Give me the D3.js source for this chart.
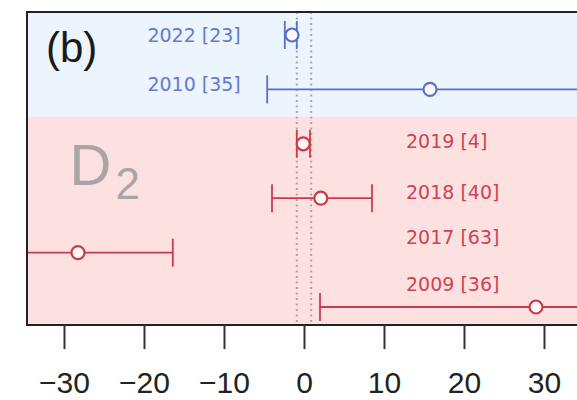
<!DOCTYPE html>
<html><head><meta charset="utf-8">
<script src="https://cdn.jsdelivr.net/npm/d3@7"></script>
<style>html,body{margin:0;padding:0;background:#fff;}svg{display:block;}</style>
</head><body>
<svg id="c" width="577" height="400"></svg>
<script>
// ---- data ----
const labels   = ["2022 [23]", "2010 [35]", "2019 [4]", "2018 [40]", "2017 [63]", "2009 [36]"];
const groups   = ["blue", "blue", "red", "red", "red", "red"];
const estimate = [-1.5, 15.75, -0.1, 2.1, -28.25, 29.0];
const lower    = [-2.4, -4.6, -0.9, -4.0, -42, 2.0];
const upper    = [-0.9, 42, 0.75, 8.5, -16.4, 42];
const labelRow = [1.0, 1.91, 2.96, 3.89, 4.71, 5.58];
const labelX   = [-7.9, -7.9, 12.75, 12.75, 12.75, 12.75];
const refLines = [-0.9, 0.9];
const xTicks   = [-30, -20, -10, 0, 10, 20, 30];

(function () {
// ---- layout ----
const pLeft = 27, pTop = 12, pBottom = 325, pRight = 620;
const svg = d3.select("#c");
const x = d3.scaleLinear().domain([-30, 30]).range([64, 544]);
const y = d3.scaleLinear().domain([1, 6]).range([35, 307]);
const col = {blue: "#5a6ecc", red: "#cc3b4a"};
const lab = {blue: "#6679cf", red: "#cf4352"};

svg.append("defs").append("clipPath").attr("id", "clip")
  .append("rect").attr("x", pLeft).attr("y", pTop).attr("width", pRight - pLeft).attr("height", pBottom - pTop);

const g = svg.append("g").attr("clip-path", "url(#clip)");
// bands
const split = y(2.5);
g.append("rect").attr("x", pLeft).attr("y", pTop).attr("width", pRight - pLeft).attr("height", split - pTop).attr("fill", "#ecf4fd");
g.append("rect").attr("x", pLeft).attr("y", split).attr("width", pRight - pLeft).attr("height", pBottom - split).attr("fill", "#fde1e1");

// D2 watermark
const dt = svg.append("text").attr("x", x(-29.3)).attr("y", 185).attr("fill", "#a9a5a5")
  .attr("font-family", "Liberation Sans, Arial, sans-serif").attr("font-size", 58);
dt.append("tspan").text("D");
dt.append("tspan").attr("font-size", 44).attr("dy", 14).attr("dx", 4).text("2");

// reference dotted lines
g.selectAll("line.ref").data(refLines).join("line")
  .attr("x1", d => x(d)).attr("x2", d => x(d)).attr("y1", pTop).attr("y2", pBottom)
  .attr("stroke", "#a9a3ad").attr("stroke-width", 2).attr("stroke-dasharray", "2,3.5");

const rows = labels.map((l, i) => ({l, i, grp: groups[i], e: estimate[i], lo: lower[i], hi: upper[i], ly: labelRow[i], lx: labelX[i]}));

// intervals
g.selectAll("line.ci").data(rows).join("line")
  .attr("x1", d => x(d.lo)).attr("x2", d => x(d.hi)).attr("y1", d => y(d.i + 1)).attr("y2", d => y(d.i + 1))
  .attr("stroke", d => col[d.grp]).attr("stroke-width", 1.8);
const caps = [];
rows.forEach(d => { caps.push({d, v: d.lo}); caps.push({d, v: d.hi}); });
g.selectAll("line.cap").data(caps).join("line")
  .attr("x1", c => x(c.v)).attr("x2", c => x(c.v))
  .attr("y1", c => y(c.d.i + 1) - 14).attr("y2", c => y(c.d.i + 1) + 14)
  .attr("stroke", c => col[c.d.grp]).attr("stroke-width", 1.8);
g.selectAll("circle.pt").data(rows).join("circle")
  .attr("cx", d => x(d.e)).attr("cy", d => y(d.i + 1)).attr("r", 6.5)
  .attr("fill", "#fffaf8").attr("stroke", d => col[d.grp]).attr("stroke-width", 2.2);

// labels
svg.selectAll("text.lab").data(rows).join("text")
  .attr("x", d => x(d.lx)).attr("y", d => y(d.ly)).attr("dy", "0.36em")
  .attr("text-anchor", d => d.grp === "blue" ? "end" : "start")
  .attr("fill", d => lab[d.grp]).attr("font-family", "DejaVu Sans, sans-serif").attr("font-size", 19)
  .text(d => d.l);

// panel label
svg.append("text").attr("x", 46).attr("y", 62).attr("font-family", "Liberation Sans, Arial, sans-serif")
  .attr("font-size", 42).attr("fill", "#1a1a1a").text("(b)");

// frame
svg.append("rect").attr("x", pLeft).attr("y", pTop).attr("width", pRight - pLeft).attr("height", pBottom - pTop)
  .attr("fill", "none").attr("stroke", "#222").attr("stroke-width", 2);

// axis
const ax = svg.append("g").attr("transform", `translate(0,${pBottom})`)
  .call(d3.axisBottom(x).tickValues(xTicks).tickSize(24).tickPadding(23).tickFormat(d => String(d).replace("-", "\u2212")));
ax.select(".domain").remove();
ax.selectAll(".tick line").attr("stroke", "#333").attr("stroke-width", 2);
ax.selectAll(".tick text").attr("font-family", "Liberation Sans, Arial, sans-serif").attr("font-size", 30).attr("fill", "#222");
})();
</script>
</body></html>
